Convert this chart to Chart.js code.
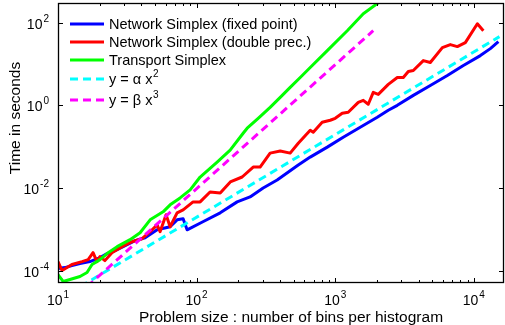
<!DOCTYPE html>
<html>
<head>
<meta charset="utf-8">
<script src="https://cdn.jsdelivr.net/npm/chart.js@4/dist/chart.umd.min.js"></script>
<style>
  html, body { margin: 0; padding: 0; background: #fff; }
  #wrap { width: 505px; height: 325px; }
</style>
</head>
<body>
<div id="wrap"><canvas id="chart" width="505" height="325"></canvas></div>
<script>
// Timings: problem size (bins) vs time in seconds
const fixedN = [10, 11.2, 12.6, 14.4, 17.0, 20.1, 22.6, 25.8, 30.5, 36.0, 42.5, 51.9, 64.4, 72.3, 79.9, 85.4,
  111, 148, 196, 243, 302, 381, 541, 660, 876, 1142, 1515, 2010, 2414, 2804, 3658, 4852, 6437, 8400, 11140, 13150, 15030];
const fixedT = [1.12e-4, 1.18e-4, 1.32e-4, 1.48e-4, 1.65e-4, 2.06e-4, 2.57e-4, 3.03e-4, 4.0e-4, 5.29e-4, 6.24e-4, 9.7e-4, 1.15e-3, 1.69e-3, 1.79e-3, 9.7e-4,
  1.52e-3, 2.5e-3, 4.6e-3, 6.07e-3, 0.01, 0.0156, 0.0358, 0.0558, 0.0972, 0.169, 0.295, 0.514, 0.758, 1.0, 1.74, 3.03, 5.28, 9.2, 16.0, 23.6, 34.8];

const doubleN = [10, 10.7, 12.6, 14.9, 16.5, 17.9, 19.1, 20.1, 21.8, 24.5, 29.0, 34.2, 40.4, 46.2, 51.9, 54.5, 60.2, 64.4, 72.3, 79.9,
  94.3, 106, 125, 148, 175, 213, 256, 287, 339, 401, 473, 541, 660, 694, 805, 920, 1000, 1123, 1241, 1466, 1593, 1731, 1881, 2044,
  2414, 2804, 3097, 3366, 3658, 4320, 4852, 5925, 6766, 7601, 8680, 10600, 11710];
const doubleT = [1.65e-4, 1.0e-4, 1.4e-4, 1.65e-4, 1.84e-4, 2.71e-4, 1.65e-4, 2.17e-4, 1.74e-4, 2.71e-4, 3.79e-4, 5.0e-4, 5.91e-4, 8.71e-4, 1.28e-3, 8.71e-4, 2.24e-3, 1.15e-3, 2.5e-3, 2.95e-3,
  4.6e-3, 4.6e-3, 8.0e-3, 7.58e-3, 0.014, 0.0184, 0.0321, 0.0321, 0.0697, 0.078, 0.0697, 0.121, 0.25, 0.224, 0.389, 0.435, 0.486, 0.641, 0.678, 1.18, 1.32, 1.06, 2.06, 1.84,
  3.21, 4.73, 4.73, 6.59, 6.97, 12.1, 10.9, 25.0, 29.5, 26.4, 33.0, 94.6, 64.1];

const transportN = [10, 10.9, 12.2, 14.4, 16.2, 17.6, 20.1, 23.0, 26.7, 33.1, 39.1, 46.2, 57.3, 64.4, 76.0, 89.8, 106, 140.6, 174.6,
  216.6, 231.6, 278, 339, 401, 473, 559, 660, 876, 1221, 1593, 2044];
const transportT = [8.01e-5, 5.43e-5, 6.07e-5, 7.17e-5, 8.95e-5, 1.4e-4, 1.84e-4, 2.71e-4, 3.79e-4, 5.59e-4, 8.24e-4, 1.69e-3, 2.64e-3, 3.9e-3, 5.74e-3, 8.95e-3, 0.0184, 0.0423, 0.0824,
  0.211, 0.279, 0.486, 0.895, 1.56, 2.72, 4.73, 8.24, 21.1, 64.1, 165, 303];

// fitted reference lines (end points)
const quadN = [10, 15300];
const quadT = [1.95e-5, 46];
const cubicN = [10, 1880];
const cubicT = [9.6e-6, 64];

const seriesLabels = ['Network Simplex (fixed point)', 'Network Simplex (double prec.)', 'Transport Simplex', 'y = α x²', 'y = β x³'];
const xTickValues = [10, 100, 1000, 10000];
const xTickExps = ['1', '2', '3', '4'];
const yTickValues = [1e-4, 1e-2, 1, 100];
const yTickExps = ['-4', '-2', '0', '2'];
const xTitle = 'Problem size : number of bins per histogram';
const yTitle = 'Time in seconds';

const FONT = "'Liberation Sans', Arial, Helvetica, sans-serif";

function pts(ns, ts) { return ns.map((n, i) => ({ x: n, y: ts[i] })); }

function lineSet(label, ns, ts, color, dash, order) {
    return {
        label: label,
        data: pts(ns, ts),
        borderColor: color,
        backgroundColor: color,
        borderWidth: 3,
        borderDash: dash,
        borderJoinStyle: 'round',
        fill: false,
        pointRadius: 0,
        clip: 0,
        order: order
    };
}

// draws "10" with a raised exponent
function drawPow(ctx, exp, x, y, align) {
    ctx.font = '14px ' + FONT;
    const wb = ctx.measureText('10').width;
    ctx.font = '10px ' + FONT;
    const we = ctx.measureText(exp).width;
    const total = wb + 1 + we;
    let start = x;
    if (align === 'center') start = x - total / 2;
    if (align === 'right') start = x - total;
    ctx.textAlign = 'left';
    ctx.textBaseline = 'alphabetic';
    ctx.font = '14px ' + FONT;
    ctx.fillText('10', start, y);
    ctx.font = '10px ' + FONT;
    ctx.fillText(exp, start + wb + 1, y - 7);
}

// label text with trailing superscript digit
function drawLabel(ctx, text, x, y) {
    const sup = { '²': '2', '³': '3' };
    const last = text.slice(-1);
    ctx.textAlign = 'left';
    ctx.textBaseline = 'alphabetic';
    ctx.font = '14.5px ' + FONT;
    if (sup[last]) {
        const base = text.slice(0, -1);
        ctx.fillText(base, x, y);
        const w = ctx.measureText(base).width;
        ctx.font = '10px ' + FONT;
        ctx.fillText(sup[last], x + w + 0.5, y - 7);
    } else {
        ctx.fillText(text, x, y);
    }
}

const axesPlugin = {
    id: 'matlabAxes',
    afterDraw(chart) {
        const ctx = chart.ctx;
        const a = chart.chartArea;
        const xs = chart.scales.x, ys = chart.scales.y;
        ctx.save();
        ctx.strokeStyle = '#000';
        ctx.fillStyle = '#000';
        ctx.lineWidth = 1;

        // minor x ticks
        const minor = [];
        xTickValues.forEach(v => { for (let k = 2; k <= 9; k++) minor.push(v * k); });
        ctx.beginPath();
        minor.forEach(v => {
            if (v > xs.max) return;
            const px = Math.round(xs.getPixelForValue(v)) + 0.5;
            ctx.moveTo(px, a.bottom); ctx.lineTo(px, a.bottom - 3);
            ctx.moveTo(px, a.top); ctx.lineTo(px, a.top + 3);
        });
        // major ticks
        xTickValues.forEach(v => {
            const px = Math.round(xs.getPixelForValue(v)) + 0.5;
            ctx.moveTo(px, a.bottom); ctx.lineTo(px, a.bottom - 5);
            ctx.moveTo(px, a.top); ctx.lineTo(px, a.top + 5);
        });
        yTickValues.forEach(v => {
            const py = Math.round(ys.getPixelForValue(v)) + 0.5;
            ctx.moveTo(a.left, py); ctx.lineTo(a.left + 5, py);
            ctx.moveTo(a.right, py); ctx.lineTo(a.right - 5, py);
        });
        ctx.stroke();

        // box
        ctx.lineWidth = 1.3;
        ctx.strokeRect(a.left + 0.5, a.top + 0.5, a.right - a.left - 1, a.bottom - a.top - 1);

        // tick labels
        xTickValues.forEach((v, i) => drawPow(ctx, xTickExps[i], xs.getPixelForValue(v), a.bottom + 22, 'center'));
        yTickValues.forEach((v, i) => drawPow(ctx, yTickExps[i], a.left - 9, ys.getPixelForValue(v) + 6, 'right'));

        // axis titles
        ctx.font = '15.5px ' + FONT;
        ctx.textAlign = 'center';
        ctx.textBaseline = 'alphabetic';
        ctx.fillText(xTitle, 291, 322);
        ctx.save();
        ctx.translate(20, 118);
        ctx.rotate(-Math.PI / 2);
        ctx.fillText(yTitle, 0, 0);
        ctx.restore();

        // legend
        const rowY = [24, 42, 60, 79, 100];
        chart.data.datasets.forEach((ds, i) => {
            ctx.beginPath();
            ctx.strokeStyle = ds.borderColor;
            ctx.lineWidth = 3;
            ctx.setLineDash(ds.borderDash || []);
            ctx.moveTo(70, rowY[i]);
            ctx.lineTo(104, rowY[i]);
            ctx.stroke();
            ctx.setLineDash([]);
            ctx.fillStyle = '#000';
            drawLabel(ctx, ds.label, 109, rowY[i] + 5);
        });
        ctx.restore();
    }
};

new Chart(document.getElementById('chart'), {
    type: 'line',
    data: {
        datasets: [
            lineSet(seriesLabels[0], fixedN, fixedT, '#0000ff', [], 5),
            lineSet(seriesLabels[1], doubleN, doubleT, '#ff0000', [], 4),
            lineSet(seriesLabels[2], transportN, transportT, '#00ff00', [], 3),
            lineSet(seriesLabels[3], quadN, quadT, '#00ffff', [8, 5], 2),
            lineSet(seriesLabels[4], cubicN, cubicT, '#ff00ff', [8, 5], 1)
        ]
    },
    options: {
        responsive: false,
        animation: false,
        layout: { padding: { top: 3, right: 1, left: 0, bottom: 0 } },
        plugins: { legend: { display: false }, tooltip: { enabled: false } },
        scales: {
            x: {
                type: 'logarithmic', min: 10, max: 16500,
                grid: { display: false }, border: { display: false }, ticks: { display: false },
                afterFit: s => { s.height = 42; }
            },
            y: {
                type: 'logarithmic', min: 5e-5, max: 300,
                grid: { display: false }, border: { display: false }, ticks: { display: false },
                afterFit: s => { s.width = 58; }
            }
        }
    },
    plugins: [axesPlugin]
});
</script>
</body>
</html>
